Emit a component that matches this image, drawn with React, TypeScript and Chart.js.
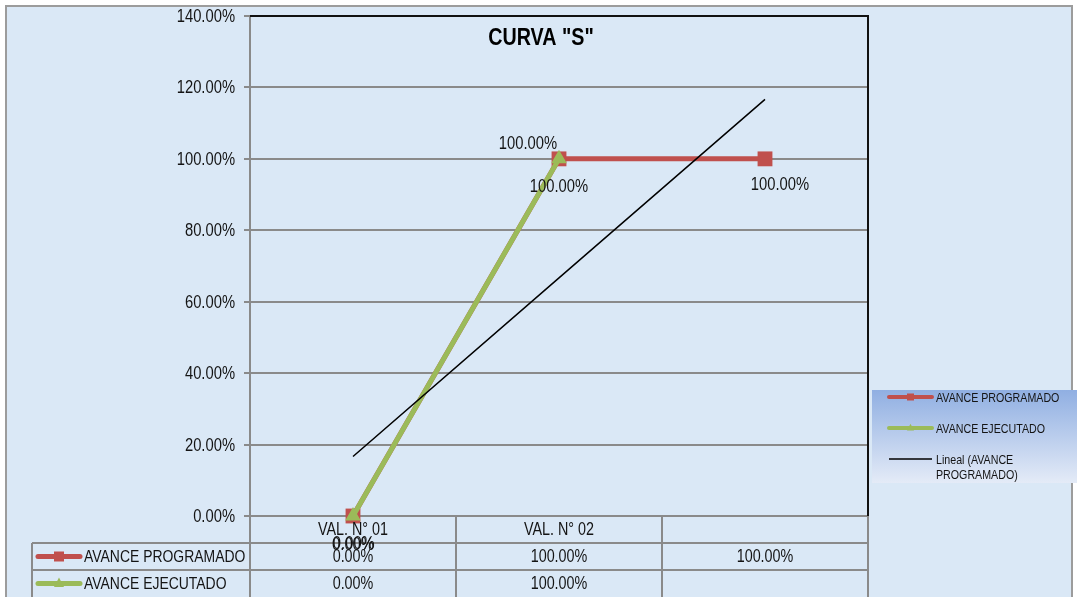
import React, { useEffect, useRef } from 'react';
import { Chart, registerables } from 'chart.js';

Chart.register(...registerables);

const W = 1077;
const H = 597;

const categories = ['VAL. N° 01', 'VAL. N° 02', ''];
const programado: (number | null)[] = [0, 1, 1];
const ejecutado: (number | null)[] = [0, 1, null];
const trendProgramado: (number | null)[] = [0.1667, 0.6667, 1.1667];
const yMin = 0;
const yMax = 1.4;
const yStep = 0.2;
const seriesNames = ['AVANCE PROGRAMADO', 'AVANCE EJECUTADO', 'Lineal (AVANCE PROGRAMADO)'];
const chartTitle = 'CURVA "S"';

const FONT = '"Liberation Sans", Arial, sans-serif';
const NARROW = 0.82;
const RED = '#c0504d';
const GREEN = '#9bbb59';
const GRID = '#8a8a8a';
const TEXT = '#141414';

const pct = (v: number | null) => (v === null || v === undefined ? '' : (v * 100).toFixed(2) + '%');

function narrowText(
  ctx: CanvasRenderingContext2D, text: string, x: number, y: number,
  align: 'left' | 'center' | 'right', size: number, bold = false, color = TEXT,
) {
  ctx.save();
  ctx.font = `${bold ? 'bold ' : ''}${size}px ${FONT}`;
  ctx.fillStyle = color;
  ctx.textBaseline = 'middle';
  ctx.textAlign = 'left';
  const w = ctx.measureText(text).width * NARROW;
  let x0 = x;
  if (align === 'center') x0 = x - w / 2;
  else if (align === 'right') x0 = x - w;
  ctx.translate(x0, y);
  ctx.scale(NARROW, 1);
  ctx.fillText(text, 0, 0);
  ctx.restore();
}

function drawSquare(ctx: CanvasRenderingContext2D, x: number, y: number, s: number, color: string) {
  ctx.fillStyle = color;
  ctx.fillRect(x - s / 2, y - s / 2, s, s);
}
function drawTriangle(ctx: CanvasRenderingContext2D, x: number, y: number, s: number, color: string) {
  ctx.fillStyle = color;
  ctx.beginPath();
  ctx.moveTo(x, y - s * 0.6);
  ctx.lineTo(x + s / 2, y + s * 0.35);
  ctx.lineTo(x - s / 2, y + s * 0.35);
  ctx.closePath();
  ctx.fill();
}
function drawKey(ctx: CanvasRenderingContext2D, x1: number, x2: number, y: number, kind: number, lw: number, ms: number) {
  ctx.save();
  ctx.lineCap = 'round';
  if (kind === 0) {
    ctx.strokeStyle = RED; ctx.lineWidth = lw;
    ctx.beginPath(); ctx.moveTo(x1, y); ctx.lineTo(x2, y); ctx.stroke();
    drawSquare(ctx, (x1 + x2) / 2, y, ms, RED);
  } else if (kind === 1) {
    ctx.strokeStyle = GREEN; ctx.lineWidth = lw;
    ctx.beginPath(); ctx.moveTo(x1, y); ctx.lineTo(x2, y); ctx.stroke();
    drawTriangle(ctx, (x1 + x2) / 2, y, ms, GREEN);
  } else {
    ctx.lineCap = 'butt';
    ctx.strokeStyle = '#000'; ctx.lineWidth = 1.5;
    ctx.beginPath(); ctx.moveTo(x1, y); ctx.lineTo(x2, y); ctx.stroke();
  }
  ctx.restore();
}

const framePlugin = {
  id: 'frame',
  beforeDraw(chart: any) {
    const ctx: CanvasRenderingContext2D = chart.ctx;
    ctx.save();
    ctx.fillStyle = '#ffffff';
    ctx.fillRect(0, 0, W, H);
    ctx.fillStyle = '#dae8f6';
    ctx.fillRect(6, 6, 1066, H);
    ctx.strokeStyle = '#9c9c9c';
    ctx.lineWidth = 2;
    ctx.strokeRect(6, 6, 1066, H + 10);
    ctx.restore();
  },
  beforeDatasetsDraw(chart: any) {
    const ctx: CanvasRenderingContext2D = chart.ctx;
    const a = chart.chartArea;
    const n = categories.length;
    const step = (a.right - a.left) / n;
    const rowH = 27;
    const r0 = a.bottom, r1 = a.bottom + rowH, r2 = a.bottom + 2 * rowH, r3 = a.bottom + 3 * rowH + 5;
    ctx.save();
    ctx.strokeStyle = GRID;
    ctx.lineWidth = 2;
    ctx.beginPath();
    ctx.moveTo(32, r1); ctx.lineTo(a.right, r1);
    ctx.moveTo(32, r2); ctx.lineTo(a.right, r2);
    ctx.moveTo(32, r1); ctx.lineTo(32, r3);
    for (let i = 0; i <= n; i++) {
      const x = a.left + i * step;
      ctx.moveTo(x, r0); ctx.lineTo(x, r3);
    }
    ctx.stroke();
    ctx.strokeStyle = '#111';
    ctx.beginPath();
    ctx.moveTo(a.left, a.top); ctx.lineTo(a.right, a.top); ctx.lineTo(a.right, a.bottom);
    ctx.stroke();
    ctx.restore();

    // y tick labels
    const ys = chart.scales.y;
    ys.ticks.forEach((t: any) => {
      narrowText(ctx, pct(t.value), a.left - 15, ys.getPixelForValue(t.value) + 1, 'right', 18);
    });
  },
  afterDraw(chart: any) {
    const ctx: CanvasRenderingContext2D = chart.ctx;
    const a = chart.chartArea;
    const n = categories.length;
    const rowH = 27;
    const xs = chart.scales.x;

    narrowText(ctx, chartTitle, 541, 38, 'center', 24, true, '#000');

    const rows = [programado, ejecutado];
    for (let i = 0; i < n; i++) {
      const cx = xs.getPixelForValue(i);
      narrowText(ctx, categories[i], cx, a.bottom + rowH / 2 + 1, 'center', 17.5);
      rows.forEach((row, r) => {
        narrowText(ctx, pct(row[i]), cx, a.bottom + rowH * (r + 1) + rowH / 2 + 1, 'center', 17.5);
      });
    }
    rows.forEach((_, r) => {
      const y = a.bottom + rowH * (r + 1) + rowH / 2;
      drawKey(ctx, 38, 80, y, r, 5, 10);
      narrowText(ctx, seriesNames[r], 84, y + 1, 'left', 17);
    });

    // data labels
    const labelOffsets = [
      [[0, 29], [-31, -15], [15, 26]],
      [[0.8, 28], [0, 28], [0, 28]],
    ];
    [programado, ejecutado].forEach((row, d) => {
      const meta = chart.getDatasetMeta(d);
      row.forEach((v, i) => {
        if (v === null) return;
        const el = meta.data[i];
        const off = labelOffsets[d][i];
        narrowText(ctx, pct(v), el.x + off[0], el.y + off[1], 'center', 18);
      });
    });

    // right legend
    ctx.save();
    const lx = 872, ly = 390, lw = W - lx, lh = 93;
    const g = ctx.createLinearGradient(0, ly, 0, ly + lh);
    g.addColorStop(0, '#90afe2');
    g.addColorStop(1, '#e4ebf7');
    ctx.fillStyle = g;
    ctx.fillRect(lx, ly, lw, lh);
    ctx.restore();
    const items = [397, 428, 459];
    items.forEach((y, i) => {
      drawKey(ctx, 889, 932, y, i, 4, 7);
      if (i < 2) {
        narrowText(ctx, seriesNames[i], 936, y + 1, 'left', 13);
      } else {
        narrowText(ctx, 'Lineal (AVANCE', 936, y + 1, 'left', 13);
        narrowText(ctx, 'PROGRAMADO)', 936, y + 16, 'left', 13);
      }
    });
  },
};

export default function App() {
  const ref = useRef<HTMLCanvasElement | null>(null);
  useEffect(() => {
    document.body.style.margin = '0';
    const canvas = ref.current;
    if (!canvas) return;
    const chart = new Chart(canvas, {
      type: 'line',
      data: {
        labels: categories,
        datasets: [
          {
            label: seriesNames[0],
            data: programado,
            borderColor: RED,
            backgroundColor: RED,
            borderWidth: 5,
            pointStyle: 'rect',
            pointRadius: 10.5,
            pointBorderWidth: 0,
            pointBackgroundColor: RED,
            tension: 0,
            clip: false as any,
            order: 2,
          },
          {
            label: seriesNames[1],
            data: ejecutado,
            borderColor: GREEN,
            backgroundColor: GREEN,
            borderWidth: 5,
            pointStyle: 'triangle',
            pointRadius: 9,
            pointBorderWidth: 0,
            pointBackgroundColor: GREEN,
            tension: 0,
            clip: false as any,
            order: 1,
          },
          {
            label: seriesNames[2],
            data: trendProgramado,
            borderColor: '#000000',
            borderWidth: 1.5,
            pointRadius: 0,
            tension: 0,
            clip: false as any,
            order: 0,
          },
        ],
      },
      options: {
        responsive: false,
        animation: false,
        devicePixelRatio: 1,
        layout: { padding: { top: 16, right: W - 868, left: 0, bottom: 0 } },
        plugins: {
          legend: { display: false },
          title: { display: false },
          tooltip: { enabled: false },
        },
        scales: {
          x: {
            type: 'category',
            offset: true,
            grid: { display: false },
            border: { display: false },
            ticks: { display: false },
            afterFit: (s: any) => { s.height = H - 516; },
          },
          y: {
            min: yMin,
            max: yMax,
            ticks: {
              stepSize: yStep,
              display: false,
            },
            grid: { color: GRID, lineWidth: 2, tickLength: 6, drawTicks: true },
            border: { color: GRID, width: 2 },
            afterFit: (s: any) => { s.width = 250; },
          },
        },
      },
      plugins: [framePlugin],
    } as any);
    return () => chart.destroy();
  }, []);
  return (
    <div style={{ width: W, height: H }}>
      <canvas ref={ref} width={W} height={H} style={{ display: 'block' }} />
    </div>
  );
}
